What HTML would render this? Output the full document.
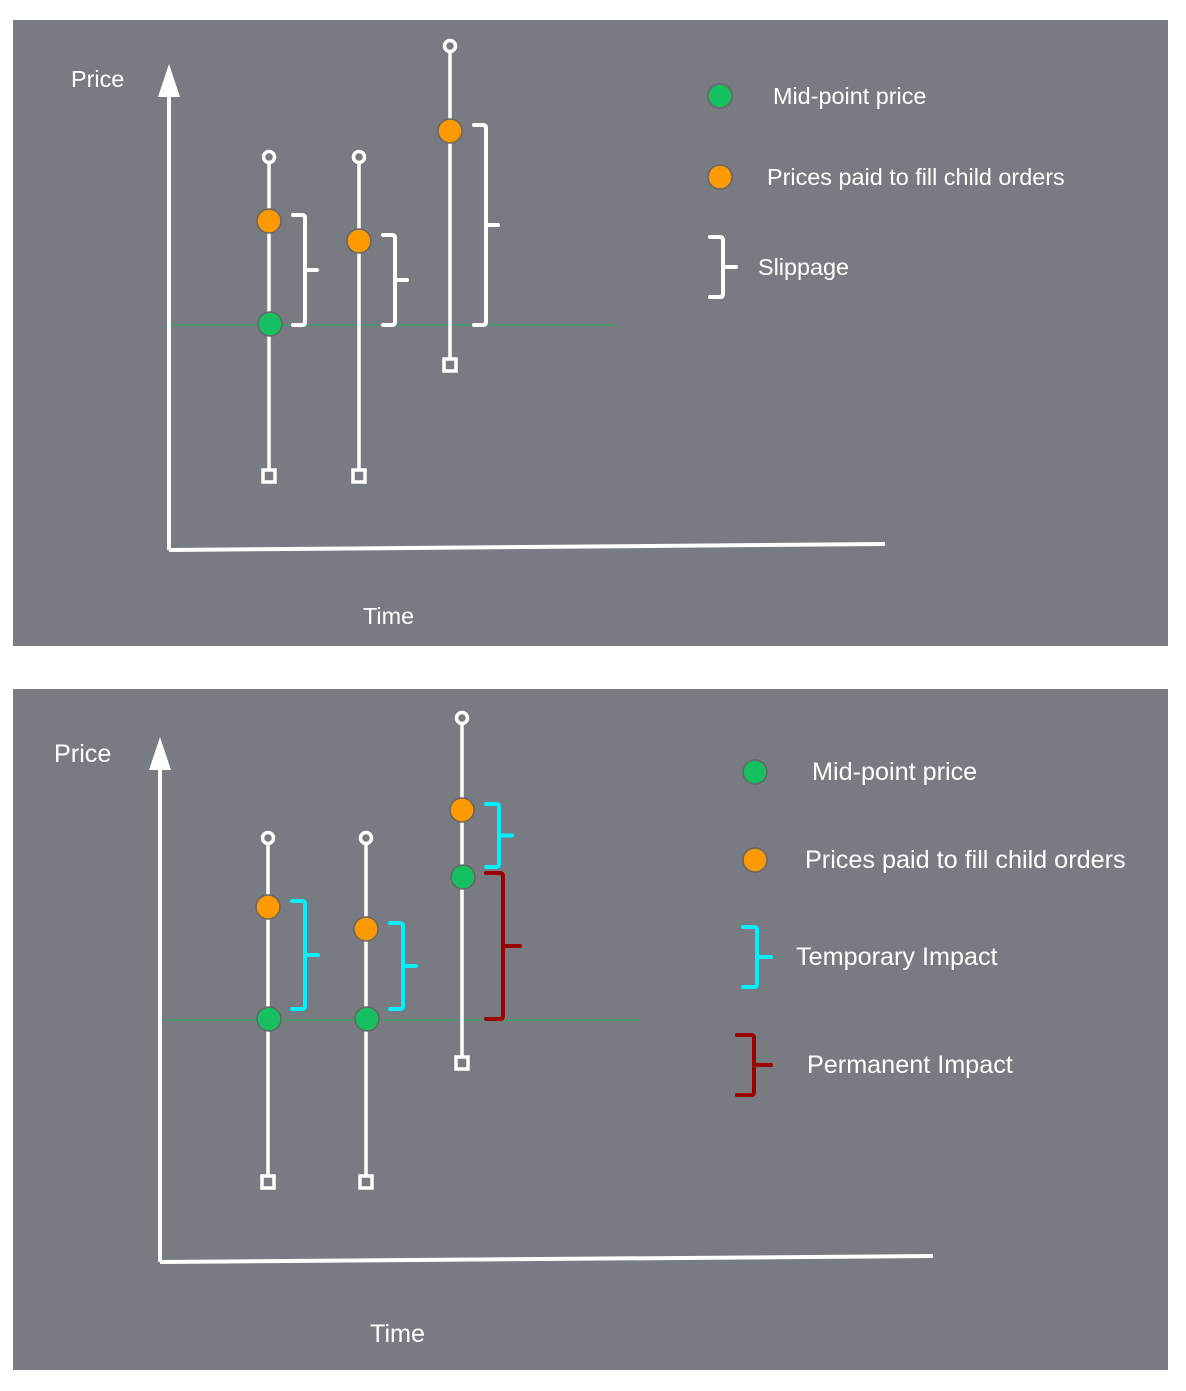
<!DOCTYPE html>
<html><head><meta charset="utf-8">
<style>
html,body{margin:0;padding:0;background:#fff;}
svg{display:block;}
text{font-family:"Liberation Sans",Arial,sans-serif;fill:#fff;font-size:22px;}
</style></head>
<body>
<svg id="chart" width="1186" height="1391" viewBox="0 0 1186 1391">
</svg>
<script>
// Panel 1 data (price units above time axis, time units right of price axis)
const p1Times = [100, 190, 281];
const p1Highs = [393, 393, 504];
const p1Lows = [74, 74, 185];
const p1Fills = [329, 309, 419];
const p1Mids = [226, null, null];
const p1MidLevel = 225;
// Panel 2 data
const p2Times = [108, 206, 302];
const p2Highs = [424, 424, 544];
const p2Lows = [80, 80, 199];
const p2Fills = [355, 333, 452];
const p2Mids = [243, 243, 385];
const p2MidLevel = 242;

const NS = 'http://www.w3.org/2000/svg';
const svg = document.getElementById('chart');
function mk(tag, attrs, parent){
  const e = document.createElementNS(NS, tag);
  for (const k in attrs) e.setAttribute(k, attrs[k]);
  (parent||svg).appendChild(e);
  return e;
}
function brace(g, x, y1, y2, w, color, sw){
  const ym = (y1+y2)/2;
  const xm = x + w*0.5;
  const d = `M${x},${y1} L${xm-3},${y1} Q${xm},${y1} ${xm},${y1+3} L${xm},${ym} L${x+w},${ym} M${xm},${ym} L${xm},${y2-3} Q${xm},${y2} ${xm-3},${y2} L${x},${y2}`;
  return mk('path',{d:d,fill:'none',stroke:color,'stroke-width':sw,'stroke-linecap':'round','stroke-linejoin':'round'},g);
}

function panel(cfg){
  const g = mk('g',{});
  
  
  g.setAttribute('style', 'font-size:'+cfg.fs+'px');
  const bg = mk('rect',{x:13,y:cfg.top,width:1155,height:cfg.h,fill:'#787b81'},g);
  
  
  const X = t => cfg.ox + t;
  const Y = v => cfg.oy - v;
  const ya = mk('line',{x1:cfg.ox,y1:cfg.oy,x2:cfg.ox,y2:cfg.arrowTip+26,stroke:'#fff','stroke-width':4},g);
  
  
  const ah = mk('polygon',{points:`${cfg.ox},${cfg.arrowTip} ${cfg.ox-11},${cfg.arrowTip+33} ${cfg.ox+11},${cfg.arrowTip+33}`,fill:'#fff'},g);
  
  
  const xa = mk('line',{x1:cfg.ox,y1:cfg.oy,x2:cfg.xEnd,y2:cfg.oy-6,stroke:'#fff','stroke-width':4},g);
  
  
  const pl = mk('text',{x:cfg.priceX,y:cfg.priceY,style:'font-size:'+cfg.fs+'px'},g); pl.textContent='Price';
  
  
  const tl = mk('text',{x:cfg.timeX,y:cfg.timeY,style:'font-size:'+cfg.fs+'px'},g); tl.textContent='Time';
  
  
  const ml = mk('line',{x1:cfg.ox+3,y1:Y(cfg.midLevel),x2:cfg.midEnd,y2:Y(cfg.midLevel),stroke:'#1fb25a','stroke-width':1},g);
  
  
  cfg.times.forEach((t,i)=>{
    const x = X(t);
    const ln = mk('line',{x1:x,y1:Y(cfg.highs[i])+6,x2:x,y2:Y(cfg.lows[i])-6,stroke:'#fff','stroke-width':3.5},g);
    
    
    const hc = mk('circle',{cx:x,cy:Y(cfg.highs[i]),r:5.5,fill:'none',stroke:'#fff','stroke-width':3.5},g);
    
    
    const lr = mk('rect',{x:x-6,y:Y(cfg.lows[i])-6,width:12,height:12,fill:'none',stroke:'#fff','stroke-width':3.5},g);
    
    
    const oc = mk('circle',{cx:x,cy:Y(cfg.fills[i]),r:12,fill:'#ff9900',stroke:'#666','stroke-width':1.5},g);
    
    
    if (cfg.mids[i] !== null){
      const gc = mk('circle',{cx:x+1,cy:Y(cfg.mids[i]),r:12,fill:'#16c060',stroke:'#666','stroke-width':1.5},g);
      
      
    }
    const bx = x + 24;
    if (cfg.kind === 1){
      const b = brace(g, bx, Y(cfg.fills[i])-6, Y(cfg.midLevel), 24, '#fff', 4);
      
      
    } else {
      const base = cfg.mids[i];
      const b = brace(g, bx, Y(cfg.fills[i])-6, Y(base)-10, 26, '#00f0ff', 4);
      
      
      if (base - cfg.midLevel > 20){
        const r = brace(g, bx, Y(base)-4, Y(cfg.midLevel)-1, 34, '#9a0000', 4);
        
        
      }
    }
  });
  cfg.legend.forEach(L=>{
    const lg = mk('g',{},g);
    
    
    if (L.type==='dot'){
      mk('circle',{cx:L.mx,cy:L.y,r:12,fill:L.color,stroke:'#666','stroke-width':1.5},lg);
    } else {
      brace(lg, L.mx-12, L.y-30, L.y+30, L.w, L.color, 4);
    }
    const tx = mk('text',{x:L.tx,y:L.y+8,style:'font-size:'+cfg.fs+'px'},lg); tx.textContent = L.label;
  });
}

panel({name:'slippage-panel',kind:1,fs:23.4,top:20,h:626,ox:169,oy:550,arrowTip:64,xEnd:885,
  priceX:71,priceY:87,timeX:363,timeY:624,midLevel:p1MidLevel,midEnd:615,
  times:p1Times,highs:p1Highs,lows:p1Lows,fills:p1Fills,mids:p1Mids,
  legend:[
    {name:'legend-mid-point',type:'dot',mx:720,y:96,color:'#16c060',tx:773,label:'Mid-point price'},
    {name:'legend-fill-price',type:'dot',mx:720,y:177,color:'#ff9900',tx:767,label:'Prices paid to fill child orders'},
    {name:'legend-slippage',type:'brace',mx:722,y:267,w:26,color:'#fff',tx:758,label:'Slippage'}
  ]});

panel({name:'impact-panel',kind:2,fs:25.2,top:689,h:681,ox:160,oy:1262,arrowTip:737,xEnd:933,
  priceX:54,priceY:762,timeX:370,timeY:1342,midLevel:p2MidLevel,midEnd:640,
  times:p2Times,highs:p2Highs,lows:p2Lows,fills:p2Fills,mids:p2Mids,
  legend:[
    {name:'legend-mid-point',type:'dot',mx:755,y:772,color:'#16c060',tx:812,label:'Mid-point price'},
    {name:'legend-fill-price',type:'dot',mx:755,y:860,color:'#ff9900',tx:805,label:'Prices paid to fill child orders'},
    {name:'legend-temporary-impact',type:'brace',mx:755,y:957,w:28,color:'#00f0ff',tx:796,label:'Temporary Impact'},
    {name:'legend-permanent-impact',type:'brace',mx:749,y:1065,w:34,color:'#9a0000',tx:807,label:'Permanent Impact'}
  ]});
</script>
</body></html>
